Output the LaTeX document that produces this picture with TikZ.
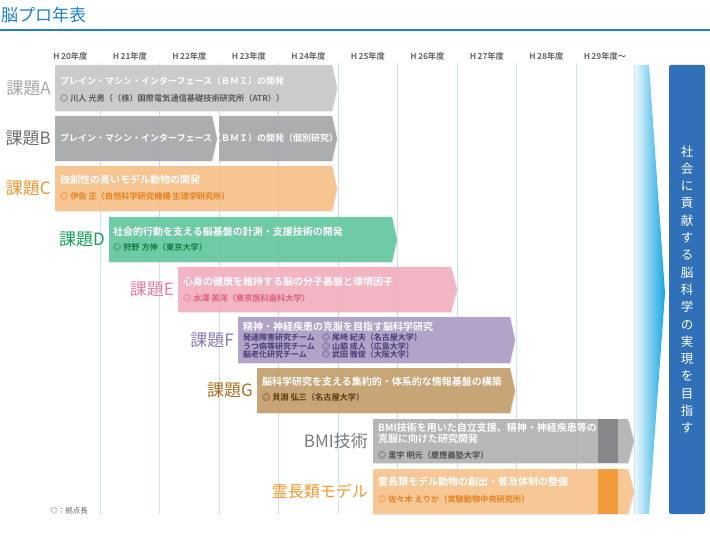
\documentclass[tikz,border=0pt]{standalone}
\usepackage{fontspec}
\setmainfont{Noto Sans CJK JP}[BoldFont={Noto Sans CJK JP Bold}]
\usepackage{tikz}
\usetikzlibrary{positioning,shadows}

\definecolor{headblue}{HTML}{1F80C8}
\definecolor{gridblue}{HTML}{CFE0F0}
\definecolor{yeargray}{HTML}{666666}
\definecolor{barA}{HTML}{C9C9CA}
\definecolor{barB}{HTML}{A8A9AB}
\definecolor{barC}{HTML}{F8C28B}
\definecolor{barD}{HTML}{66C9A0}
\definecolor{barE}{HTML}{F4B1C0}
\definecolor{barF}{HTML}{AD9FC6}
\definecolor{barG}{HTML}{C6A06D}
\definecolor{barBMI}{HTML}{B3B3B5}
\definecolor{darkBMI}{HTML}{87878A}
\definecolor{barP}{HTML}{F9C690}
\definecolor{darkP}{HTML}{F39A3B}
\definecolor{labA}{HTML}{A6A6A6}
\definecolor{labB}{HTML}{6E6E6E}
\definecolor{labC}{HTML}{F0962F}
\definecolor{labD}{HTML}{16A05A}
\definecolor{labE}{HTML}{EB7E9B}
\definecolor{labF}{HTML}{8C78B2}
\definecolor{labG}{HTML}{A86F20}
\definecolor{labBMI}{HTML}{7A7A7A}
\definecolor{subA}{HTML}{5A5A5A}
\definecolor{subC}{HTML}{E8801F}
\definecolor{subD}{HTML}{157A45}
\definecolor{subE}{HTML}{E0607F}
\definecolor{subF}{HTML}{4B3C78}
\definecolor{subG}{HTML}{5A3B12}
\definecolor{subBMI}{HTML}{505050}
\definecolor{arrowcyan}{HTML}{14A6E0}
\definecolor{boxblue}{HTML}{2F70B8}

\begin{document}
\begin{tikzpicture}[x=1pt, y=-1pt, node distance=4pt,
  kadai/.style={font=\fontsize{17}{17}\selectfont, inner sep=0pt},
  titletext/.style={font=\bfseries\fontsize{10}{11}\selectfont, text=white, inner sep=0pt, align=left},
  subtext/.style={font=\bfseries\fontsize{8.2}{9}\selectfont, inner sep=0pt, align=left},
  yeartext/.style={font=\bfseries\fontsize{8.3}{8.3}\selectfont, text=yeargray, inner sep=0pt},
  yearline/.style={draw=gridblue, line width=0.8pt},
  barshadow/.style={fill opacity=0.93, drop shadow={opacity=0.15, shadow xshift=1pt, shadow yshift=-1.2pt}}]
\useasboundingbox (0,0) rectangle (710,540);

% header
\node[anchor=west, inner sep=0pt, text=headblue, font=\fontsize{17}{17}\selectfont] (title) at (1,15) {脳プロ年表};
\draw[headblue, line width=1.2pt] (0,30) -- (710,30);

% years
\node[yeartext] (y20) at (70.5,56) {H\,20年度};
\node[yeartext] (y21) at (130,56) {H\,21年度};
\node[yeartext] (y22) at (189.5,56) {H\,22年度};
\node[yeartext] (y23) at (249,56) {H\,23年度};
\node[yeartext] (y24) at (308.5,56) {H\,24年度};
\node[yeartext] (y25) at (368,56) {H\,25年度};
\node[yeartext] (y26) at (427.5,56) {H\,26年度};
\node[yeartext] (y27) at (487,56) {H\,27年度};
\node[yeartext] (y28) at (546.5,56) {H\,28年度};
\node[yeartext] (y29) at (605,56) {H\,29年度〜};
\draw[yearline] (100,63) -- (100,514);
\draw[yearline] (159.5,63) -- (159.5,514);
\draw[yearline] (219,63) -- (219,514);
\draw[yearline] (278.5,63) -- (278.5,514);
\draw[yearline] (338,63) -- (338,514);
\draw[yearline] (397.5,63) -- (397.5,514);
\draw[yearline] (457,63) -- (457,514);
\draw[yearline] (516.5,63) -- (516.5,514);
\draw[yearline] (576,63) -- (576,514);

% bars
\fill[barA, barshadow] (55,65) -- (332,65) -- (337,88) -- (332,111) -- (55,111) -- cycle;
\fill[barB, barshadow] (55,116) -- (212,116) -- (217,138.5) -- (212,161) -- (55,161) -- cycle;
\fill[barB, barshadow] (219,116) -- (332,116) -- (337,138.5) -- (332,161) -- (219,161) -- cycle;
\fill[barC, barshadow] (55,166) -- (332,166) -- (337,188.5) -- (332,211) -- (55,211) -- cycle;
\fill[barD, barshadow] (109,217) -- (392,217) -- (397,239.5) -- (392,262) -- (109,262) -- cycle;
\fill[barE, barshadow] (178,267) -- (451,267) -- (457,289.5) -- (451,312) -- (178,312) -- cycle;
\fill[barF, barshadow] (238,317) -- (510,317) -- (515,340) -- (510,363) -- (238,363) -- cycle;
\fill[barG, barshadow] (257,368) -- (510,368) -- (515,390.5) -- (510,413) -- (257,413) -- cycle;
\fill[barBMI, barshadow] (373,419) -- (628,419) -- (634,441) -- (628,463) -- (373,463) -- cycle;
\fill[darkBMI] (598,419) rectangle (618,463);
\fill[barP, barshadow] (373,469) -- (628,469) -- (634,491.5) -- (628,514) -- (373,514) -- cycle;
\fill[darkP] (598,469) rectangle (618,514);

% goal
\shade[left color=arrowcyan!6, right color=arrowcyan] (634,65) -- (649,65) -- (665,293) -- (649,514) -- (634,514) -- cycle;
\draw[gridblue, line width=0.8pt] (634,65) -- (634,514);
\node[fill=boxblue, rounded corners=2pt, minimum width=36pt, minimum height=449pt, inner sep=0pt,
  text=white, align=center, font=\fontsize{12.5}{17.3}\selectfont] (goal) at (687,289.5)
  {社\\会\\に\\貢\\献\\す\\る\\脳\\科\\学\\の\\実\\現\\を\\目\\指\\す};

% bar anchors
\coordinate (bA) at (55,88);
\coordinate (bB) at (55,138.5);
\coordinate (bC) at (55,188.5);
\coordinate (bD) at (109,239.5);
\coordinate (bE) at (178,289.5);
\coordinate (bF) at (238,340);
\coordinate (bG) at (257,390.5);
\coordinate (bBMI) at (373,441);
\coordinate (bP) at (373,491.5);

% labels
\node[kadai, text=labA, left=4pt of bA] (kA) {課題A};
\node[kadai, text=labB, left=4pt of bB] (kB) {課題B};
\node[kadai, text=labC, left=4pt of bC] (kC) {課題C};
\node[kadai, text=labD, left=4pt of bD] (kD) {課題D};
\node[kadai, text=labE, left=4pt of bE] (kE) {課題E};
\node[kadai, text=labF, left=4pt of bF] (kF) {課題F};
\node[kadai, text=labG, left=4pt of bG] (kG) {課題G};
\node[kadai, text=labBMI, left=5pt of bBMI] (kBMI) {BMI技術};
\node[kadai, font=\fontsize{16}{16}\selectfont, text=labC, left=5pt of bP] (kP) {霊長類モデル};

% texts in the bars
\node[titletext, font=\bfseries\fontsize{9}{10}\selectfont, right=5pt of bA, yshift=7pt] (tA) {プレイン・マシン・インターフェース（ＢＭＩ）の開発};
\node[subtext, text=subA, below=17pt of tA.west, anchor=west] (sA) {◎ 川人 光男（（株）国際電気通信基礎技術研究所（ATR））};
\node[titletext, font=\bfseries\fontsize{9}{10}\selectfont, right=5pt of bB] (tB) {プレイン・マシン・インターフェース（ＢＭＩ）の開発（個別研究）};
\node[titletext, right=5pt of bC, yshift=8.5pt] (tC) {独創性の高いモデル動物の開発};
\node[subtext, text=subC, below=16pt of tC.west, anchor=west] (sC) {◎ 伊佐 正（自然科学研究機構 生理学研究所）};
\node[titletext, right=4pt of bD, yshift=7.5pt] (tD) {社会的行動を支える脳基盤の計測・支援技術の開発};
\node[subtext, text=subD, below=15pt of tD.west, anchor=west] (sD) {◎ 狩野 方伸（東京大学）};
\node[titletext, right=5pt of bE, yshift=7.5pt] (tE) {心身の健康を維持する脳の分子基盤と環境因子};
\node[subtext, text=subE, below=16pt of tE.west, anchor=west] (sE) {◎ 水澤 英洋（東京医科歯科大学）};
\node[titletext, right=5pt of bF, yshift=13pt] (tF) {精神・神経疾患の克服を目指す脳科学研究};
\node[subtext, text=subF, font=\bfseries\fontsize{8}{8.3}\selectfont, below=19pt of tF.west, anchor=west] (sF)
  {\makebox[79pt][l]{発達障害研究チーム}◎ 尾崎 紀夫（名古屋大学）\\
   \makebox[79pt][l]{うつ病等研究チーム}◎ 山脇 成人（広島大学）\\
   \makebox[79pt][l]{脳老化研究チーム}◎ 武田 雅俊（大阪大学）};
\node[titletext, right=5pt of bG, yshift=8.5pt] (tG) {脳科学研究を支える集約的・体系的な情報基盤の構築};
\node[subtext, text=subG, below=15pt of tG.west, anchor=west] (sG) {◎ 貝淵 弘三（名古屋大学）};
\node[titletext, right=5pt of bBMI, yshift=7.5pt] (tBMI) {BMI技術を用いた自立支援、精神・神経疾患等の\\克服に向けた研究開発};
\node[subtext, text=subBMI, below=21.5pt of tBMI.west, anchor=west] (sBMI) {◎ 里宇 明元（慶應義塾大学）};
\node[titletext, right=5pt of bP, yshift=9.5pt] (tP) {霊長類モデル動物の創出・普及体制の整備};
\node[subtext, text=subC, below=17pt of tP.west, anchor=west] (sP) {◎ 佐々木 えりか（実験動物中央研究所）};

% note
\node[anchor=east, inner sep=0pt, text=yeargray, font=\fontsize{7.5}{8}\selectfont] (note) at (88,511) {◎：拠点長};
\end{tikzpicture}
\end{document}
